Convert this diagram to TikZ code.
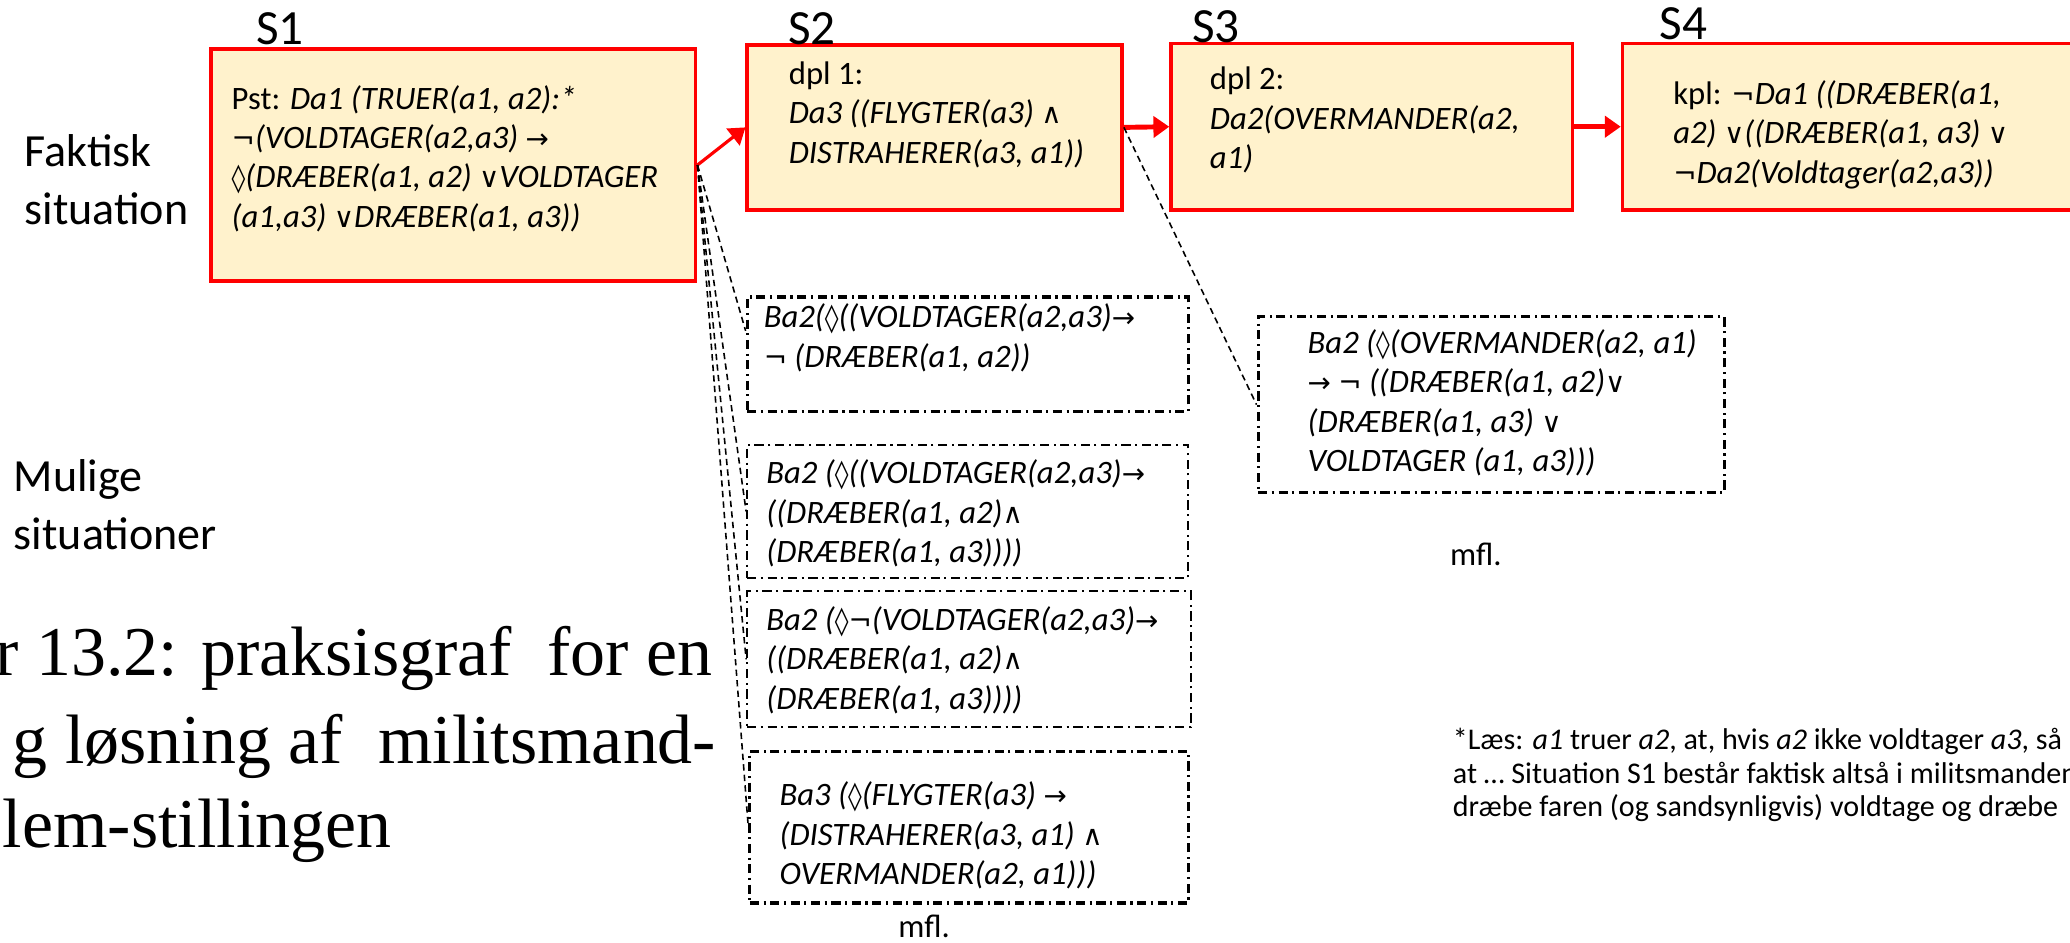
\documentclass[tikz,border=0pt]{standalone}
\usepackage{fontspec}
\setmainfont{Carlito}
\newfontfamily\titlefont{Liberation Serif}
\newfontfamily\symf[Scale=0.85]{DejaVu Sans}
\usetikzlibrary{arrows.meta,calc}
\definecolor{boxfill}{HTML}{FFF2CC}
\definecolor{boxred}{HTML}{FF0000}
\newcommand{\SYneg}{{\symf ¬}}
\newcommand{\SYimp}{{\symf →}}
\newcommand{\SYor}{{\symf ∨}}
\newcommand{\SYand}{{\symf ∧}}
\newcommand{\SYpos}{{\symf ◊}}
\begin{document}
\begin{tikzpicture}[x=0.37563pt,y=-0.37563pt,
  sbox/.style={draw=boxred,fill=boxfill,line width=1pt,inner sep=0pt},
  pbox/.style={draw=black,line width=0.9pt,inner sep=0pt,dash pattern=on 2.6pt off 1.3pt on 0.6pt off 1.3pt},
  pboxthin/.style={pbox,line width=0.6pt},
  btxt/.style={inner sep=0pt,anchor=west,align=left,font=\fontsize{9.3}{11.2}\selectfont},
  lbl/.style={inner sep=0pt,font=\fontsize{14}{16}\selectfont},
  side/.style={inner sep=0pt,anchor=west,align=left,font=\fontsize{13.1}{16.5}\selectfont},
  ttl/.style={inner sep=0pt,anchor=base east,font=\titlefont\fontsize{19.9}{24}\selectfont},
  note/.style={inner sep=0pt,anchor=west,align=left,font=\fontsize{8.55}{9.5}\selectfont},
  redarrow/.style={draw=boxred,line width=1.4pt,-{Triangle[length=4.5pt,width=6pt]}},
  fan/.style={draw=black,line width=0.45pt,dash pattern=on 1.8pt off 1.2pt}
]
\useasboundingbox (0,0) rectangle (1568,714);
\clip (0,0) rectangle (1568,714);
\fill[white] (0,0) rectangle (1568,714);

% situation boxes
\node[sbox,minimum width=137.86pt,minimum height=66.11pt] (S1) at (343.5,125) {};
\node[sbox,minimum width=106.68pt,minimum height=46.95pt] (S2) at (708,96.5) {};
\node[sbox,minimum width=114.19pt,minimum height=47.33pt] (S3) at (1039,96) {};
\node[sbox,minimum width=146.87pt,minimum height=47.33pt] (S4) at (1424.5,96) {};

% possible-situation boxes
\node[pbox,minimum width=125.46pt,minimum height=32.68pt] (B1) at (733,268.5) {};
\node[pboxthin,minimum width=125.46pt,minimum height=37.94pt] (B2) at (733,387.5) {};
\node[pboxthin,minimum width=126.21pt,minimum height=38.69pt] (B3) at (734,499.5) {};
\node[pbox,minimum width=124.71pt,minimum height=43.20pt] (B4) at (734,626.5) {};
\node[pbox,minimum width=132.60pt,minimum height=49.96pt] (B5) at (1129.5,306.5) {};

% labels
\node[lbl] (L1) at (212,22) {S1};
\node[lbl] (L2) at (615,22) {S2};
\node[lbl] (L3) at (921,20) {S3};
\node[lbl] (L4) at (1275,18) {S4};
\node[side] (fak) at (18,136) {Faktisk\\situation};
\node[side] (mul) at (10,382) {Mulige\\situationer};

% box texts
\node[btxt] (S1t) at (175,120) {Pst: \itshape Da1 (TRUER(a1, a2):*\\
\itshape \SYneg(VOLDTAGER(a2,a3) \SYimp\\
\itshape \SYpos(DRÆBER(a1, a2) \SYor VOLDTAGER\\
\itshape (a1,a3) \SYor DRÆBER(a1, a3))};
\node[btxt] (S2t) at (597,87) {dpl 1:\\
\itshape Da3 ((FLYGTER(a3) \SYand\\
\itshape DISTRAHERER(a3, a1))};
\node[btxt] (S3t) at (916,91) {dpl 2:\\
\itshape Da2(OVERMANDER(a2,\\
\itshape a1)};
\node[btxt] (S4t) at (1267,102) {kpl: \SYneg\itshape Da1 ((DRÆBER(a1,\\
\itshape a2) \SYor((DRÆBER(a1, a3) \SYor\\
\itshape \SYneg Da2(Voldtager(a2,a3))};

\node[btxt] (B1t) at (578,256) {\itshape Ba2(\SYpos((VOLDTAGER(a2,a3)\SYimp\\
\itshape \SYneg\ (DRÆBER(a1, a2))};
\node[btxt] (B2t) at (580,389) {\itshape Ba2 (\SYpos((VOLDTAGER(a2,a3)\SYimp\\
\itshape ((DRÆBER(a1, a2)\SYand\\
\itshape (DRÆBER(a1, a3))))};
\node[btxt] (B3t) at (580,500) {\itshape Ba2 (\SYpos\SYneg(VOLDTAGER(a2,a3)\SYimp\\
\itshape ((DRÆBER(a1, a2)\SYand\\
\itshape (DRÆBER(a1, a3))))};
\node[btxt] (B4t) at (590,633) {\itshape Ba3 (\SYpos(FLYGTER(a3) \SYimp\\
\itshape (DISTRAHERER(a3, a1) \SYand\\
\itshape OVERMANDER(a2, a1)))};
\node[btxt] (B5t) at (990,305) {\itshape Ba2 (\SYpos(OVERMANDER(a2, a1)\\
\itshape \SYimp\ \SYneg\ ((DRÆBER(a1, a2)\SYor\\
\itshape (DRÆBER(a1, a3) \SYor\\
\itshape VOLDTAGER (a1, a3)))};

\node[btxt,anchor=center] (mfl1) at (700,702) {mfl.};
\node[btxt,anchor=center] (mfl2) at (1118,420) {mfl.};

% title (cut off at left edge, as in the reference)
\node[ttl] (T1) at (540,512) {r 13.2: praksisgraf\ \ for en};
\node[ttl] (T2) at (543,578) {g løsning af\ \ militsmand-};
\node[ttl] (T3) at (297,642) {blem-stillingen};

% footnote
\node[note] (fn) at (1100,587) {*Læs: \textit{a1} truer \textit{a2}, at, hvis \textit{a2} ikke voldtager \textit{a3}, så\\
at … Situation S1 består faktisk altså i militsmanden\\
dræbe faren (og sandsynligvis) voldtage og dræbe};

% connectors
\draw[redarrow,line width=0.9pt] (S1.east) -- (S2.west);
\draw[redarrow] (S2.east) -- (S3.west);
\draw[redarrow] (S3.east) -- (S4.west);

\draw[fan] (S1.east) -- ($(B1.north west)!0.3!(B1.south west)$);
\draw[fan] (S1.east) -- (B2.west);
\draw[fan] (S1.east) -- (B3.west);
\draw[fan] (S1.east) -- (B4.west);
\draw[fan] (S2.east) -- (B5.west);
\end{tikzpicture}
\end{document}
